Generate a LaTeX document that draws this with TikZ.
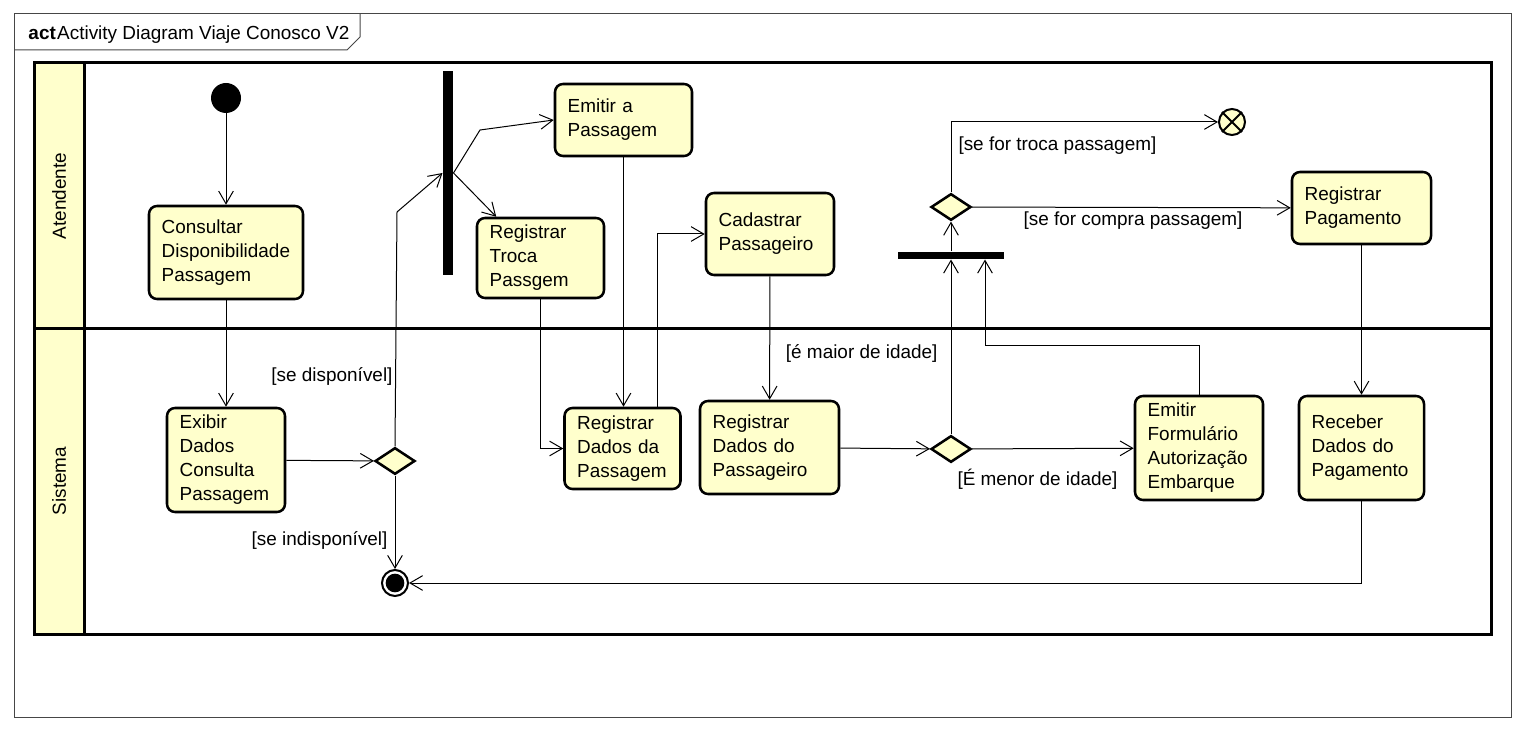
\documentclass[tikz,border=0pt]{standalone}
\usepackage{fontspec}
\setmainfont{Liberation Sans}
\usetikzlibrary{arrows.meta,shapes.geometric}

\definecolor{laneyellow}{RGB}{255,255,204}
\definecolor{framegray}{RGB}{70,70,70}
\tikzset{every picture/.style={line width=0.75pt}}
\tikzset{
  diagfont/.style={font=\fontsize{14.2}{18}\selectfont},
  actbox/.style={draw, fill=laneyellow, rounded corners=6pt, line width=1.9pt, align=left, inner xsep=9.5pt, inner ysep=0pt, diagfont},
  decision/.style={draw, fill=laneyellow, diamond, line width=1.9pt, minimum width=30pt, minimum height=20pt, inner sep=0pt},
  syncbar/.style={fill=black, inner sep=0pt},
  initnode/.style={circle, fill=black, minimum size=22.5pt, inner sep=0pt},
  finalnode/.style={circle, draw, fill=white, line width=1.5pt, minimum size=19.5pt, inner sep=0pt, path picture={\fill [black] (path picture bounding box.center) circle (7pt);}},
  flowfinal/.style={circle, draw, fill=laneyellow, line width=1.5pt, minimum size=19.5pt, inner sep=0pt},
  flowline/.style={-{Straight Barb[length=9.5pt,width=11pt]}, line width=0.75pt},
  guard/.style={diagfont, inner sep=0pt},
}

\begin{document}
\begin{tikzpicture}[x=0.75pt,y=0.75pt,yscale=-1,xscale=1]
\useasboundingbox (0,0) rectangle (1524,730);

%Frame
\draw [color=framegray] (14,14) rectangle (1511,717);
\draw [color=framegray] (14,50) -- (347,50) -- (360,37) -- (360,14);
\node [diagfont, anchor=base west, inner sep=0pt] (title) at (28,40) {\textbf{act}\kern1pt Activity Diagram Viaje Conosco V2};

%Swimlanes
\draw [fill=laneyellow, line width=2.25pt] (34,63) rectangle (84,634);
\draw [line width=2.25pt] (34,63) rectangle (1491,634);
\draw [line width=2.25pt] (34,329) -- (1491,329);
\node [diagfont, rotate=90] (atendente) at (59,196) {Atendente};
\node [diagfont, rotate=90] (sistema) at (59,481) {Sistema};

%Start, end
\node [initnode] (start) at (226,98) {};
\node [finalnode] (final) at (395,583) {};
\node [flowfinal] (fflow) at (1232,122) {};
\draw [line width=1.5pt] (fflow.45) -- (fflow.225) (fflow.135) -- (fflow.315);

%Bars
\node [syncbar, minimum width=7.5pt, minimum height=153pt] (fork) at (448,173) {};
\node [syncbar, minimum width=79.5pt, minimum height=5.25pt] (join) at (951,255.5) {};

%Actions
\node [actbox, text width=96.5pt, minimum height=69.75pt] (consultar) at (226,252.5) {Consultar\\Disponibilidade\\Passagem};
\node [actbox, text width=69.5pt, minimum height=78pt] (exibir) at (226,460) {Exibir\\Dados\\Consulta\\Passagem};
\node [actbox, text width=83.75pt, minimum height=54pt] (emitir) at (623.5,120) {Emitir a\\Passagem};
\node [actbox, text width=76.25pt, minimum height=60pt] (troca) at (540.5,258) {Registrar\\Troca\\Passgem};
\node [actbox, text width=77pt, minimum height=61.5pt] (cadastrar) at (770,234) {Cadastrar\\Passageiro};
\node [actbox, text width=68pt, minimum height=60.75pt] (regpass) at (622.5,448.5) {Registrar\\Dados da\\Passagem};
\node [actbox, text width=85.25pt, minimum height=69.75pt] (regpsg) at (769.5,447.5) {Registrar\\Dados do\\Passageiro};
\node [actbox, text width=77pt, minimum height=78pt] (formulario) at (1199,448) {Emitir\\Formulário\\Autorização\\Embarque};
\node [actbox, text width=85.25pt, minimum height=54pt] (regpag) at (1361.5,208) {Registrar\\Pagamento};
\node [actbox, text width=74.75pt, minimum height=78pt] (receber) at (1361.5,448) {Receber\\Dados do\\Pagamento};

%Decisions
\node [decision] (dispo) at (395,461) {};
\node [decision] (idade) at (951,449) {};
\node [decision] (tipo) at (951,207) {};

%Straight Lines
\draw [flowline] (start) -- (consultar);
\draw [flowline] (consultar) -- (exibir);
\draw [flowline] (exibir) -- (dispo);
\draw [flowline] (dispo.north) -- (397,212) -- (fork.west);
\draw [flowline] (dispo) -- (final);
\draw [flowline] (fork.east) -- (480,130) -- (emitir.west);
\draw [flowline] (fork.east) -- (troca.137);
\draw [flowline] (troca.south) |- (regpass.west);
\draw [flowline] (emitir) -- (emitir |- regpass.north);
\draw [flowline] (regpass.50) |- (cadastrar.west);
\draw [flowline] (cadastrar) -- (regpsg);
\draw [flowline] (regpsg) -- (idade);
\draw [flowline] (idade) -- (join);
\draw [flowline] (idade) -- (formulario);
\draw [flowline] (formulario.north) -- ++(0,-49) -| (985,0 |- join.south);
\draw [flowline] (join) -- (tipo);
\draw [flowline] (tipo.north) |- (fflow.west);
\draw [flowline] (tipo) -- (regpag);
\draw [flowline] (regpag) -- (receber);
\draw [flowline] (receber.south) |- (final.east);

%Guards
\node [guard, anchor=east] (gdisp) at (393,376) {[se disponível]};
\node [guard, anchor=east] (gindisp) at (388,540) {[se indisponível]};
\node [guard, anchor=east] (gmaior) at (938,353) {[é maior de idade]};
\node [guard, anchor=west] (gmenor) at (957,479) {[É menor de idade]};
\node [guard, anchor=west] (gtroca) at (958,146) {[se for troca passagem]};
\node [guard] (gcompra) at (1133,221) {[se for compra passagem]};
\end{tikzpicture}
\end{document}
